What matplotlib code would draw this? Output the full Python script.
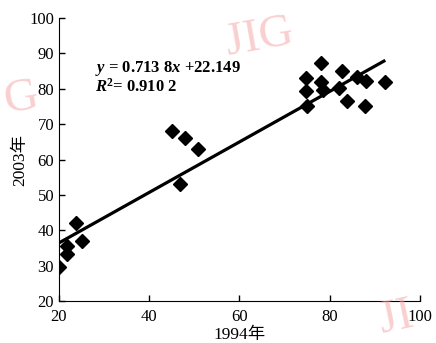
import matplotlib.pyplot as plt
import numpy as np

plt.rcParams['font.family'] = ['Liberation Serif', 'Noto Sans CJK SC']
plt.rcParams['mathtext.fontset'] = 'custom'
plt.rcParams['mathtext.it'] = 'Liberation Serif:italic:bold'
plt.rcParams['mathtext.rm'] = 'Liberation Serif:bold'

# 1994 vs 2003 values
x1994 = [20.0, 21.8, 21.8, 23.8, 25.0,
         45.0, 48.0, 50.9, 46.8,
         74.8, 74.8, 74.9, 78.1, 78.0, 78.4, 82.7, 82.1, 83.9,
         86.0, 88.1, 87.9, 92.3]
y2003 = [29.7, 35.6, 33.3, 42.0, 37.0,
         68.0, 66.0, 62.9, 53.0,
         83.1, 79.4, 75.1, 87.2, 81.8, 79.7, 85.1, 80.2, 76.6,
         83.2, 82.3, 75.0, 81.8]
slope = 0.7138
intercept = 22.149
r2 = 0.9102
fit_x = [20, 92]

fig = plt.figure(figsize=(4.36, 3.43), dpi=100)
ax = fig.add_axes([0.1353, 0.1224, 0.828, 0.8251])

ax.plot(x1994, y2003, 'D', color='black', ms=7.5, zorder=3)
fx = np.array(fit_x)
ax.plot(fx, slope * fx + intercept, color='black', lw=2.3, zorder=2)

ax.set_xlim(20, 100)
ax.set_ylim(20, 100)
ax.set_xticks([20, 40, 60, 80, 100])
ax.set_yticks([20, 30, 40, 50, 60, 70, 80, 90, 100])
ax.spines['top'].set_visible(False)
ax.spines['right'].set_visible(False)
ax.tick_params(direction='in', length=4, labelsize=12, width=1)
ax.tick_params(axis='x', pad=6)
ax.set_xlabel('1994年', fontsize=12.5, labelpad=1)
ax.set_ylabel('2003年', fontsize=12.5, labelpad=1)

ax.text(0.10, 0.81, '$y$ = 0.713 8$x$ +22.149', transform=ax.transAxes,
        fontsize=12, fontweight='bold', va='baseline')
ax.text(0.10, 0.738, '$R$$^2$= 0.910 2', transform=ax.transAxes,
        fontsize=12, fontweight='bold', va='baseline')

# faint watermark
wm = dict(color='#f4a8a8', alpha=0.55, fontsize=34, zorder=0)
fig.text(0.51, 0.84, 'JIG', rotation=10, **wm)
fig.text(0.0, 0.67, 'G', rotation=10, **wm)
fig.text(0.86, 0.03, 'JI', rotation=12, **wm)

fig.savefig('out.png', dpi=100)
